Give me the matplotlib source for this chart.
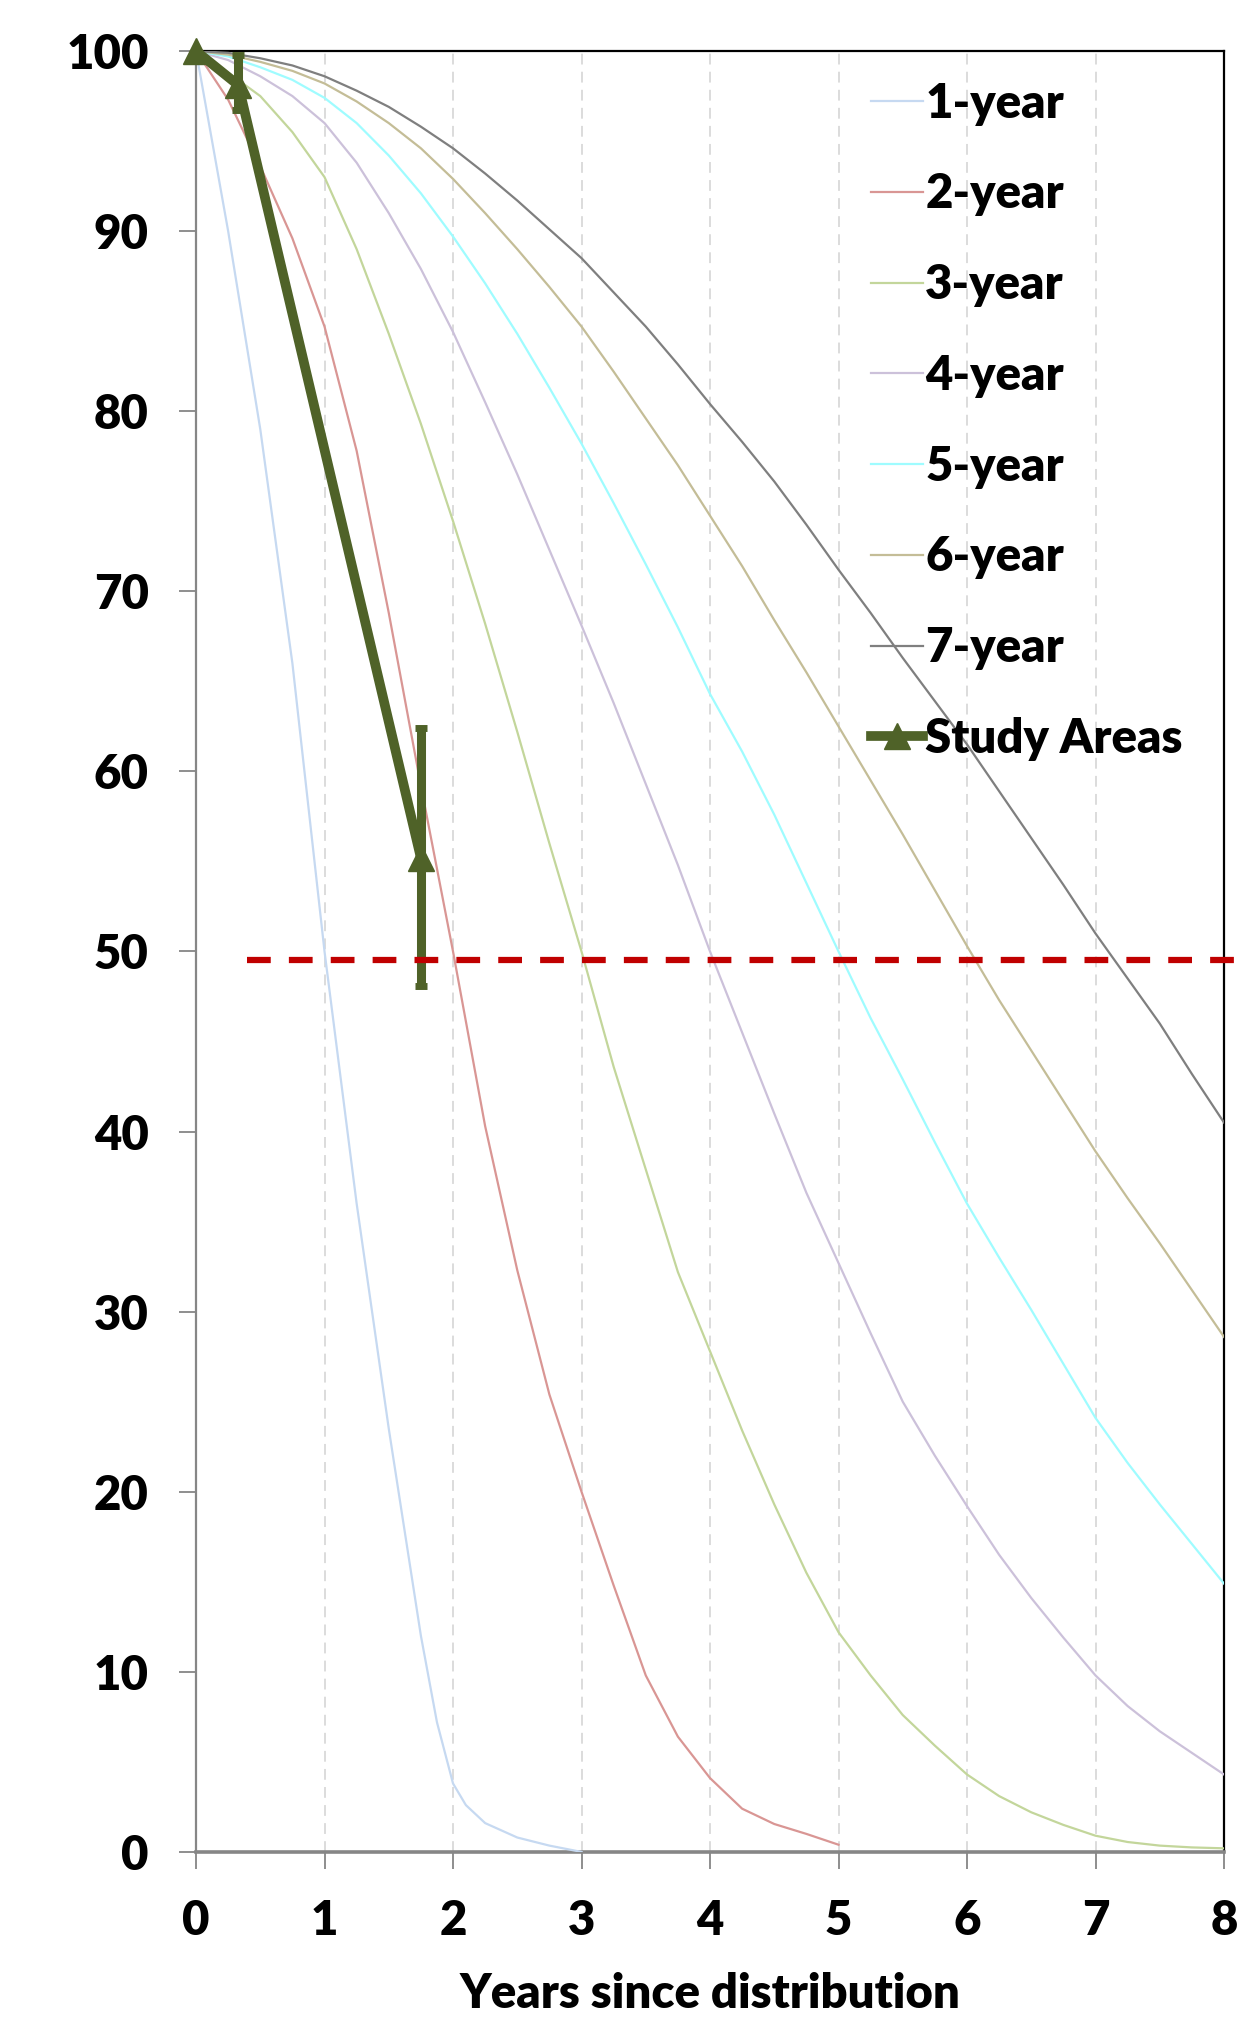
import matplotlib.pyplot as plt

# survival curves (percent remaining vs years)
x_1yr = [0, 0.25, 0.5, 0.75, 1.0, 1.25, 1.5, 1.75, 1.875, 2.0, 2.1, 2.25, 2.5, 2.75, 3.0]
one_year = [100, 90, 79, 66, 50, 36, 23.5, 12, 7.2, 3.8, 2.6, 1.6, 0.8, 0.35, 0]

x_2yr = [0, 0.25, 0.5, 0.75, 1.0, 1.25, 1.5, 1.75, 2.0, 2.25, 2.5, 2.75, 3.0,
         3.25, 3.5, 3.75, 4.0, 4.25, 4.5, 4.75, 5.0]
two_year = [100, 97.3, 93.6, 89.6, 84.7, 77.8, 68.8, 59.2, 50, 40.3, 32.3, 25.4, 20,
            14.8, 9.8, 6.4, 4.1, 2.4, 1.55, 1.0, 0.4]

x_long = [0, 0.25, 0.5, 0.75, 1.0, 1.25, 1.5, 1.75, 2.0, 2.25, 2.5, 2.75, 3.0,
          3.25, 3.5, 3.75, 4.0, 4.25, 4.5, 4.75, 5.0, 5.25, 5.5, 5.75, 6.0,
          6.25, 6.5, 6.75, 7.0, 7.25, 7.5, 7.75, 8.0]
three_year = [100, 98.8, 97.5, 95.5, 93.0, 89.0, 84.3, 79.3, 73.9, 68.2, 62.2, 56.0, 50.0,
              43.6, 37.9, 32.2, 27.8, 23.4, 19.3, 15.5, 12.2, 9.8, 7.6, 5.9, 4.3,
              3.1, 2.2, 1.5, 0.9, 0.55, 0.35, 0.25, 0.2]
four_year = [100, 99.5, 98.6, 97.5, 96.0, 93.8, 91.0, 87.9, 84.4, 80.5, 76.5, 72.3, 68.1,
             63.8, 59.3, 54.8, 50.0, 45.5, 41.0, 36.6, 32.7, 28.8, 25.0, 22.0, 19.2,
             16.5, 14.1, 11.9, 9.8, 8.1, 6.7, 5.5, 4.3]
five_year = [100, 99.7, 99.1, 98.4, 97.4, 96.0, 94.2, 92.1, 89.7, 87.1, 84.3, 81.3, 78.2,
             74.9, 71.5, 68.0, 64.3, 61.1, 57.6, 53.8, 50.0, 46.3, 42.9, 39.4, 36.0,
             33.0, 30.1, 27.1, 24.1, 21.6, 19.3, 17.1, 14.9]
six_year = [100, 99.8, 99.4, 98.9, 98.2, 97.2, 96.0, 94.6, 92.9, 91.0, 89.0, 86.9, 84.7,
            82.2, 79.6, 77.0, 74.2, 71.4, 68.4, 65.5, 62.5, 59.5, 56.5, 53.4, 50.3,
            47.3, 44.5, 41.7, 38.9, 36.3, 33.8, 31.2, 28.6]
seven_year = [100, 99.9, 99.6, 99.2, 98.6, 97.8, 96.9, 95.8, 94.6, 93.2, 91.7, 90.1, 88.5,
              86.6, 84.7, 82.6, 80.4, 78.3, 76.1, 73.7, 71.2, 68.8, 66.3, 63.9, 61.5,
              58.9, 56.3, 53.7, 51.0, 48.5, 46.0, 43.2, 40.5]

labels = ["1-year", "2-year", "3-year", "4-year", "5-year", "6-year", "7-year"]
colors = ["#c6d9f1", "#d99694", "#c3d69b", "#ccc1da", "#9ffcff", "#c4bd97", "#7f7f7f"]

study_x = [0, 0.33, 1.75]
study_y = [100, 98.1, 55.2]
study_err_low = [0, 1.4, 7.1]
study_err_high = [0, 1.7, 7.2]

threshold = 49.5
threshold_span = [0.4, 8.15]

plt.rcParams['font.family'] = ['Lato', 'DejaVu Sans']
plt.rcParams['font.weight'] = 'heavy'

fig = plt.figure(figsize=(12.55, 20.18), dpi=100)
ax = fig.add_axes([0.1562, 0.0823, 0.8191, 0.8924])

series = [(x_1yr, one_year), (x_2yr, two_year), (x_long, three_year), (x_long, four_year),
          (x_long, five_year), (x_long, six_year), (x_long, seven_year)]
for (xs, ys), lab, col in zip(series, labels, colors):
    ax.plot(xs, ys, color=col, lw=1.6, label=lab, zorder=3)

green = "#4f6228"
ax.errorbar(study_x, study_y, yerr=[study_err_low, study_err_high], fmt='none',
            ecolor=green, elinewidth=6.5, capsize=4.5, capthick=5, zorder=5)
ax.plot(study_x, study_y, color=green, lw=7, marker='^', ms=19,
        label="Study Areas", zorder=6, clip_on=False)

ax.plot(threshold_span, [threshold, threshold], color="#c00000", lw=4.5,
        dashes=(3.8, 2.9), clip_on=False, zorder=7)

ax.set_xlim(0, 8)
ax.set_ylim(0, 100)
ax.set_xticks(range(0, 9))
ax.set_yticks(range(0, 101, 10))

ax.grid(axis='x', color="#d9d9d9", lw=1.3, ls=(0, (6, 4)))
ax.set_axisbelow(True)

for side in ['top', 'right']:
    ax.spines[side].set_color('black')
    ax.spines[side].set_linewidth(1.6)
ax.spines['left'].set_color('#868686')
ax.spines['left'].set_linewidth(1.6)
ax.spines['bottom'].set_color('#868686')
ax.spines['bottom'].set_linewidth(2.6)

ax.tick_params(axis='both', direction='out', length=12, width=1.3, color='#868686',
               labelsize=34, pad=22)

ax.set_xlabel("Years since distribution", fontsize=34, fontweight='heavy', labelpad=21)

leg = ax.legend(loc='upper left', bbox_to_anchor=(0.657, 0.983), frameon=False,
                fontsize=34, handlelength=1.1, handletextpad=0.04,
                labelspacing=0.99, borderpad=0, borderaxespad=0)

fig.savefig("out.png", dpi=100)
